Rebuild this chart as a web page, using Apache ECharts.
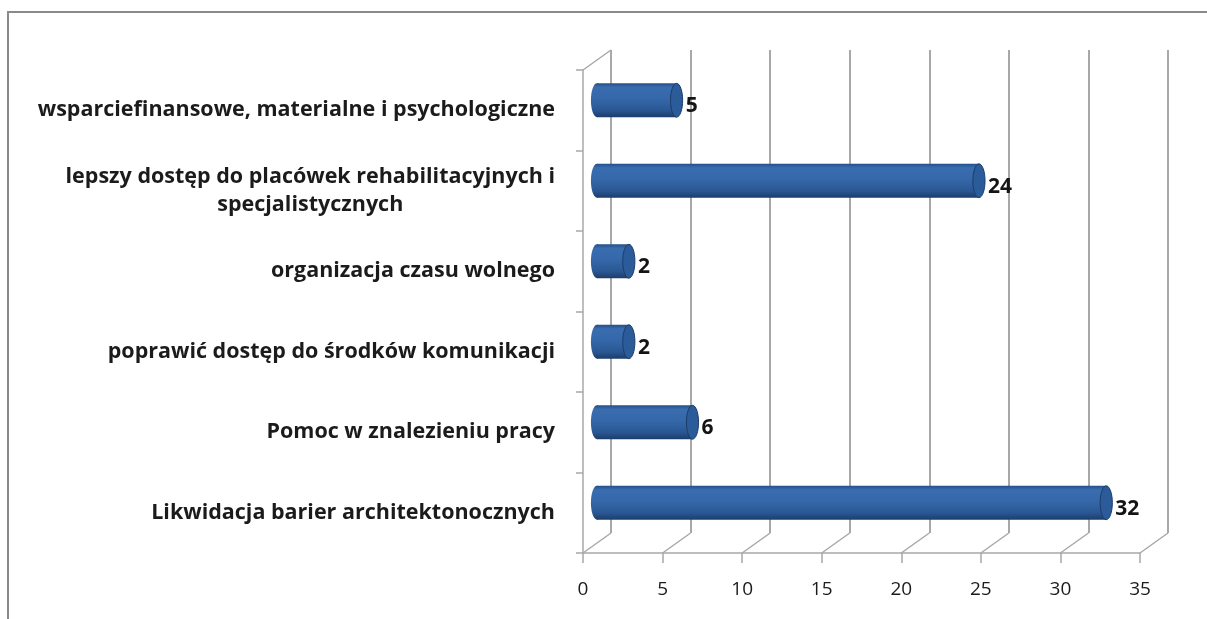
<!DOCTYPE html>
<html>
<head>
<meta charset="utf-8">
<title>Potrzeby</title>
<script src="https://cdn.jsdelivr.net/npm/echarts@6/dist/echarts.min.js"></script>
<style>
  html, body { margin: 0; padding: 0; background: #fff; }
  #chart { width: 1207px; height: 619px; }
</style>
</head>
<body>
<div id="chart"></div>
<script>
// categories from top to bottom
const categories = [
  'wsparciefinansowe, materialne i psychologiczne',
  'lepszy dostęp do placówek rehabilitacyjnych i\nspecjalistycznych',
  'organizacja czasu wolnego',
  'poprawić dostęp do środków komunikacji',
  'Pomoc w znalezieniu pracy',
  'Likwidacja barier architektonocznych'
]
const counts = [5, 24, 2, 2, 6, 32]
const xTicks = [0, 5, 10, 15, 20, 25, 30, 35]

const FONT = '"Open Sans", Lato, sans-serif'
const GRID_COLOR = '#a8a8a8'
const DEPTH = [28, -20] // 3d depth of the plot box, px

const chart = echarts.init(document.getElementById('chart'))

const barFill = () => new echarts.graphic.LinearGradient(0, 0, 0, 1, [
  { offset: 0, color: '#24508a' },
  { offset: 0.12, color: '#3a6db0' },
  { offset: 0.45, color: '#3568aa' },
  { offset: 0.8, color: '#2a5793' },
  { offset: 1, color: '#1b3d6b' },
])

const renderFrame = (params, api) => {
  const v = api.value(0)
  const band = api.size([0, 1])[1]
  const bottom = api.coord([v, categories.length - 1])
  const by = bottom[1] + band / 2
  const style = { stroke: GRID_COLOR, lineWidth: 1.5 }
  const children = [{
    type: 'line',
    shape: { x1: bottom[0], y1: by, x2: bottom[0] + DEPTH[0], y2: by + DEPTH[1] },
    style,
  }]
  if (params.dataIndex === 0) {
    const top = api.coord([v, 0])
    const ty = top[1] - band / 2
    children.push({
      type: 'line',
      shape: { x1: top[0], y1: ty, x2: top[0] + DEPTH[0], y2: ty + DEPTH[1] },
      style,
    })
  }
  return { type: 'group', children }
}

const renderBar = (params, api) => {
  const val = api.value(0)
  const idx = api.value(1)
  const band = api.size([0, 1])[1]
  const s = api.coord([0, idx])
  const e = api.coord([val, idx])
  const h = band * 0.42
  const rx = h * 0.18
  const x0 = s[0] + DEPTH[0] / 2
  const x1 = e[0] + DEPTH[0] / 2
  const cy = s[1] + DEPTH[1] / 2
  return {
    type: 'group',
    children: [
      { type: 'ellipse', shape: { cx: x0, cy, rx, ry: h / 2 }, style: { fill: barFill() } },
      { type: 'rect', shape: { x: x0, y: cy - h / 2, width: x1 - x0, height: h }, style: { fill: barFill() } },
      {
        type: 'ellipse',
        shape: { cx: x1, cy, rx, ry: h / 2 },
        style: { fill: '#2c5b9a', stroke: '#1c3c69', lineWidth: 1 },
      },
      {
        type: 'text',
        x: x1 + rx + 3,
        y: cy + 6,
        style: {
          text: String(val),
          font: 'bold 21px ' + FONT,
          fill: '#141414',
          verticalAlign: 'middle',
          align: 'left',
        },
      },
    ],
  }
}

const labelRich = {
  a: { fontFamily: FONT, fontWeight: 'bold', fontSize: 21.5, color: '#1b1b1b', lineHeight: 28 },
  b: { fontFamily: FONT, fontWeight: 'bold', fontSize: 21.5, color: '#1b1b1b', lineHeight: 28, align: 'center' },
}

chart.setOption({
  animation: false,
  graphic: [{
    type: 'rect',
    shape: { x: 8, y: 12, width: 1260, height: 700 },
    style: { fill: 'none', stroke: '#8a8a8a', lineWidth: 2 },
    silent: true,
  }],
  grid: [
    { left: 583, top: 70, width: 557, height: 483 },
    { left: 583 + DEPTH[0], top: 70 + DEPTH[1], width: 557, height: 483 },
  ],
  xAxis: [
    {
      gridIndex: 0,
      type: 'value',
      min: 0,
      max: 35,
      interval: 5,
      axisLine: { show: true, lineStyle: { color: GRID_COLOR, width: 1.5 } },
      axisTick: { show: true, length: 10, lineStyle: { color: GRID_COLOR, width: 1.5 } },
      axisLabel: { margin: 27, fontFamily: FONT, fontSize: 19, color: '#1b1b1b' },
      splitLine: { show: false },
    },
    {
      gridIndex: 1,
      type: 'value',
      min: 0,
      max: 35,
      interval: 5,
      axisLine: { show: false },
      axisTick: { show: false },
      axisLabel: { show: false },
      splitLine: { show: true, lineStyle: { color: GRID_COLOR, width: 2 } },
    },
  ],
  yAxis: [
    {
      gridIndex: 0,
      type: 'category',
      inverse: true,
      data: categories,
      axisLine: { show: true, lineStyle: { color: GRID_COLOR, width: 1.5 } },
      axisTick: { show: true, length: 7, lineStyle: { color: GRID_COLOR, width: 1.5 } },
      axisLabel: {
        margin: 28,
        fontFamily: FONT,
        fontWeight: 'bold',
        fontSize: 21.5,
        color: '#1b1b1b',
        lineHeight: 28,
        formatter: (v) => {
          const lines = v.split('\n')
          if (lines.length === 1) return v
          return '{a|' + lines[0] + '}\n{b|' + lines[1] + '}'
        },
        rich: labelRich,
      },
      splitLine: { show: false },
    },
    {
      gridIndex: 1,
      type: 'category',
      inverse: true,
      data: categories,
      show: false,
    },
  ],
  series: [
    {
      type: 'custom',
      xAxisIndex: 0,
      yAxisIndex: 0,
      clip: false,
      silent: true,
      renderItem: renderFrame,
      encode: { x: 0, y: 1 },
      data: xTicks.map((t) => [t, 0]),
      z: 1,
    },
    {
      type: 'custom',
      xAxisIndex: 0,
      yAxisIndex: 0,
      clip: false,
      renderItem: renderBar,
      encode: { x: 0, y: 1 },
      data: counts.map((c, i) => [c, i]),
      z: 3,
    },
  ],
})
</script>
</body>
</html>
